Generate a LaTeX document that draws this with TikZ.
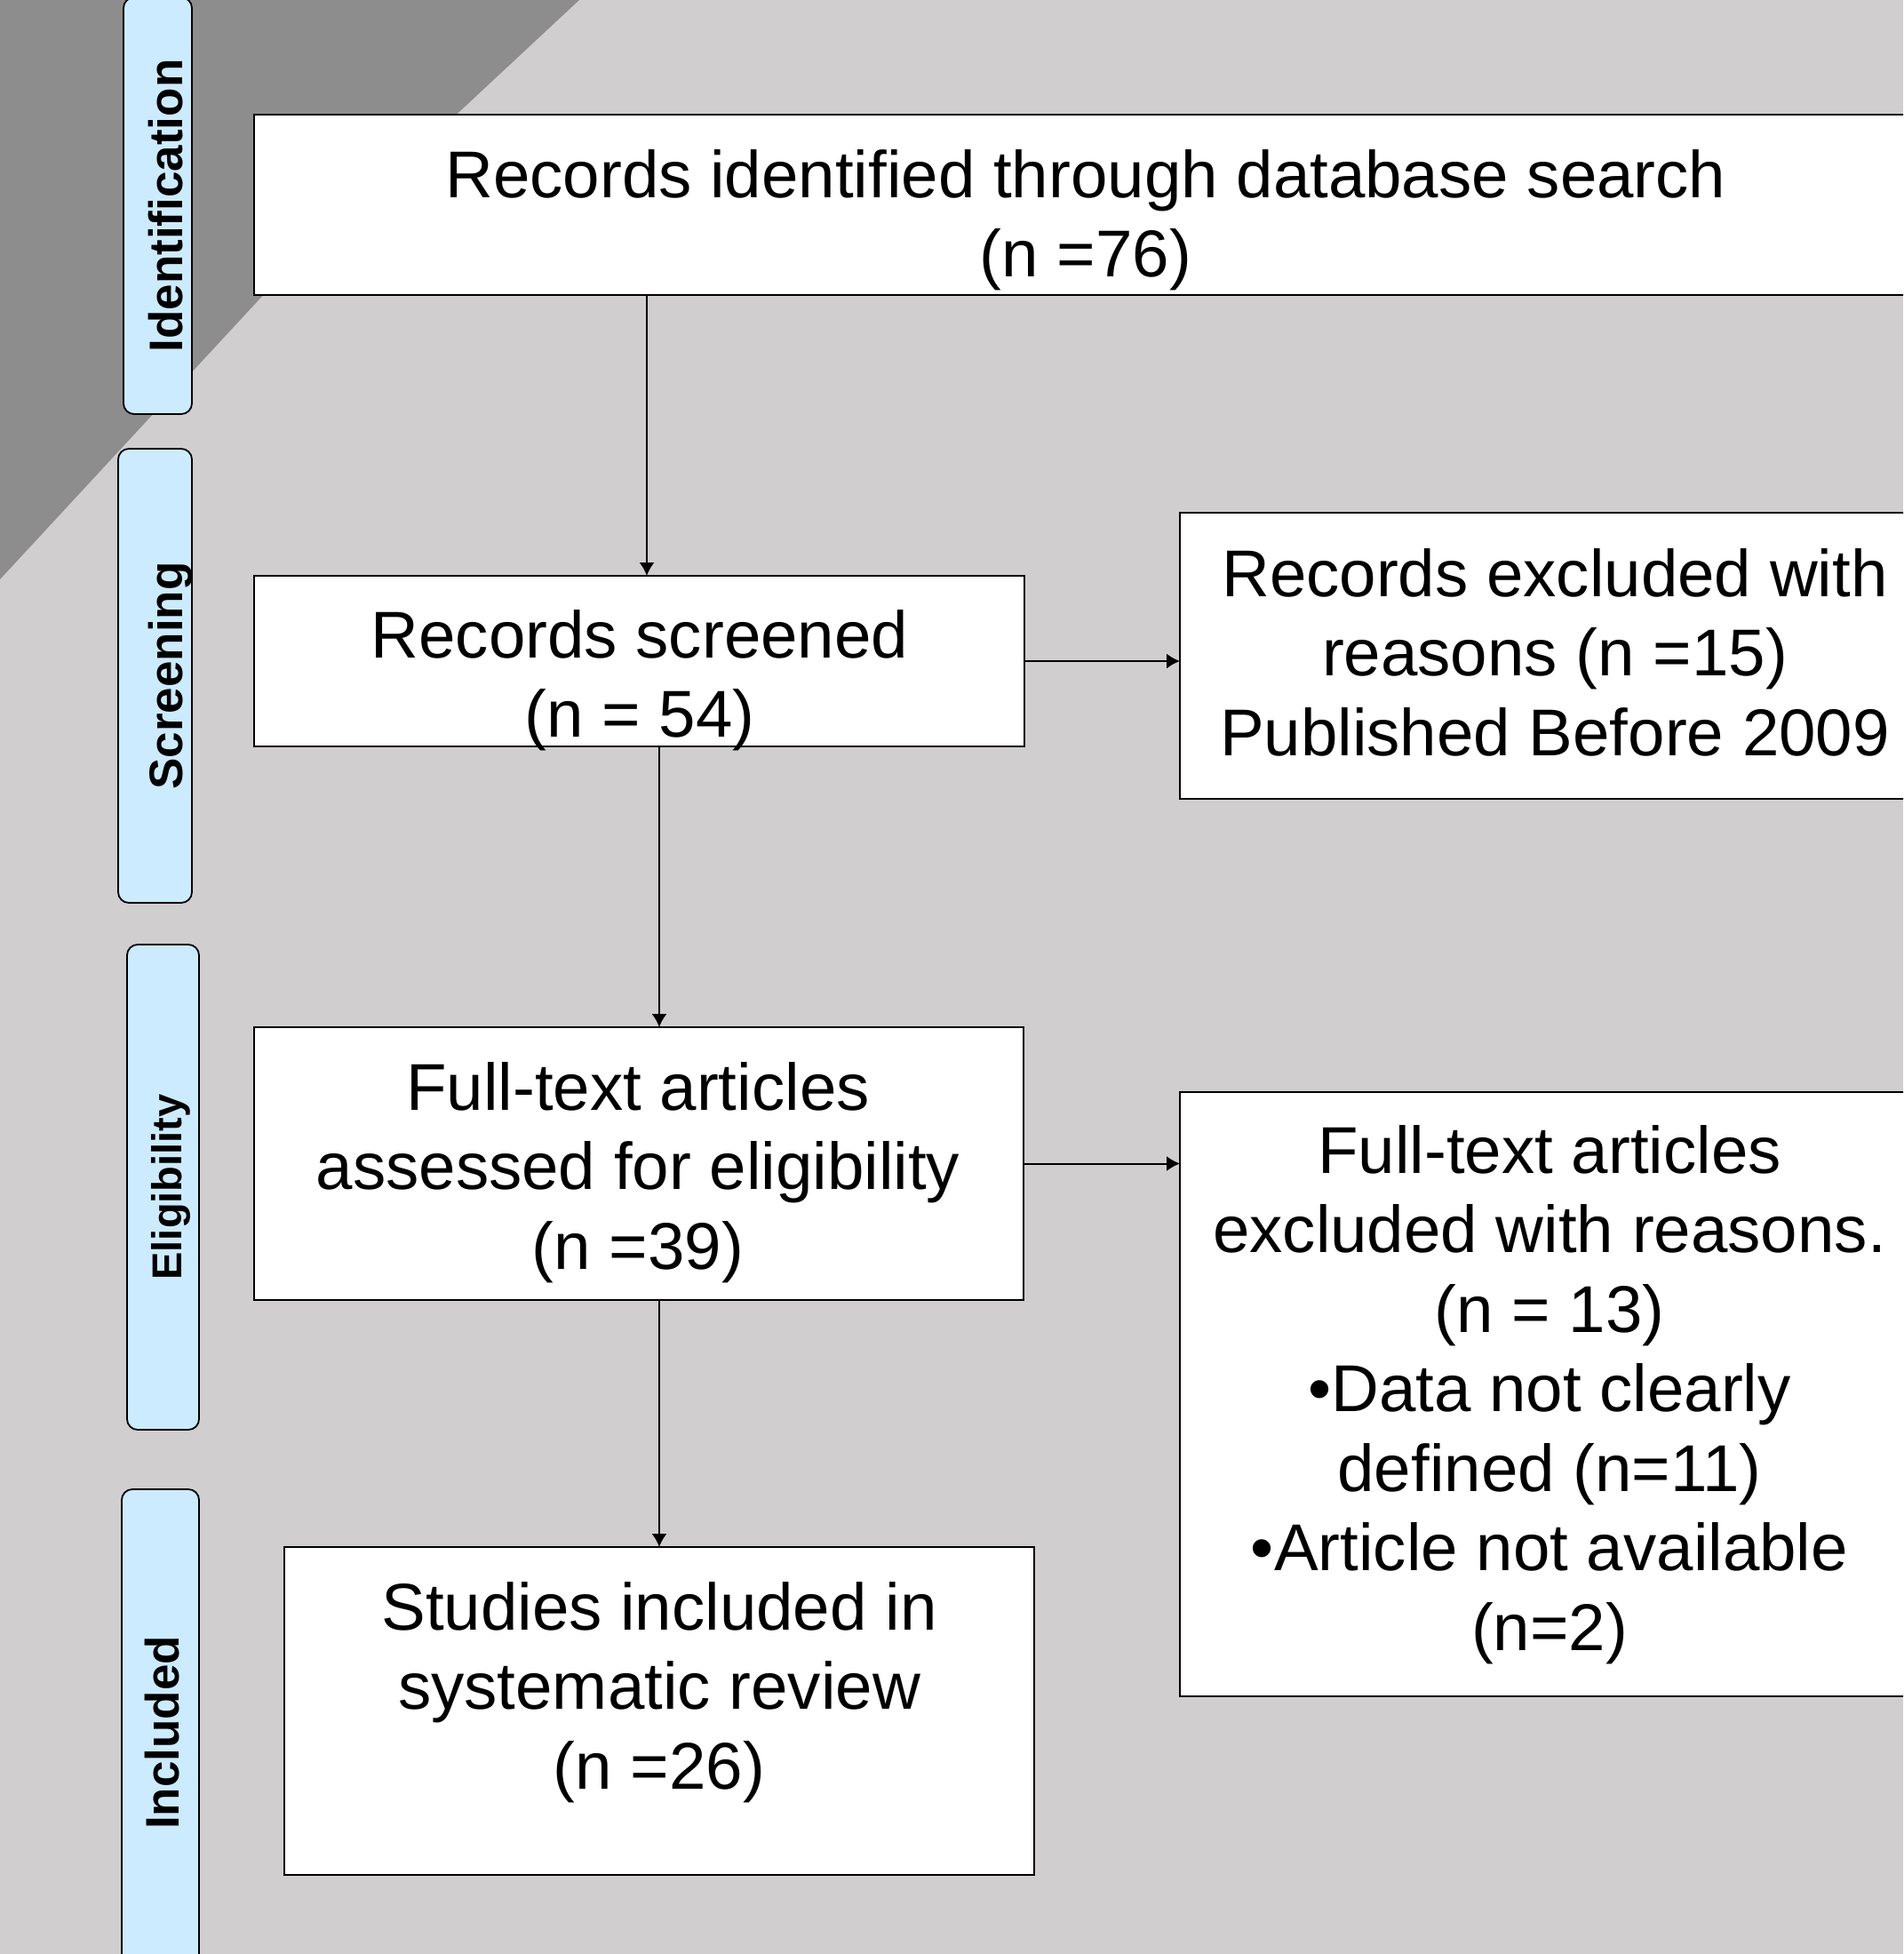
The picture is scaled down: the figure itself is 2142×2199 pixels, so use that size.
\documentclass[tikz,border=0pt]{standalone}
\usepackage{fontspec}
\setmainfont{Liberation Sans}
\usetikzlibrary{arrows.meta}
\definecolor{bggray}{RGB}{208,206,207}
\definecolor{triangray}{RGB}{141,141,141}
\definecolor{tabblue}{RGB}{204,235,255}
\begin{document}
\begin{tikzpicture}[x=0.5pt,y=-0.5pt,
  box/.style={draw=black,fill=white,line width=1pt,inner sep=0pt,outer sep=0pt,rectangle},
  txt/.style={align=center,font=\fontsize{37.25}{44.75}\selectfont,inner sep=0pt},
  tab/.style={draw=black,fill=tabblue,line width=0.9pt,rounded corners=6pt,inner sep=0pt,outer sep=0pt,rectangle},
  tabtxt/.style={rotate=90,anchor=base,font=\fontsize{26.5}{30}\selectfont\bfseries,inner sep=0pt},
  arr/.style={line width=1pt,-{Latex[length=7.5pt,width=8.5pt]}}]
\useasboundingbox (0,0) rectangle (2142,2199);
\clip (0,0) rectangle (2142,2199);
\fill[bggray] (0,0) rectangle (2142,2199);
\fill[triangray] (0,0) -- (652,0) -- (300,328) -- (0,652) -- cycle;

% phase tabs
\node[tab,minimum width=38.5pt,minimum height=234.5pt] (t1) at (177.5,231.5) {};
\node[tab,minimum width=41.5pt,minimum height=255.5pt] (t2) at (174.5,760.5) {};
\node[tab,minimum width=40.5pt,minimum height=273pt] (t3) at (183.5,1336) {};
\node[tab,minimum width=43.5pt,minimum height=274pt] (t4) at (180.5,1950) {};
\node[tabtxt] (t1l) at (205,231.5) {Identification};
\node[tabtxt] (t2l) at (205,760.5) {Screening};
\node[tabtxt,font=\fontsize{23.5}{28}\selectfont\bfseries] (t3l) at (204,1336) {Eligibility};
\node[tabtxt] (t4l) at (201,1950) {Included};

% boxes
\node[box,minimum width=937pt,minimum height=101.5pt] (b1) at (1223,230.5) {};
\node[box,minimum width=433.5pt,minimum height=96pt] (b2) at (719.5,744) {};
\node[box,minimum width=422pt,minimum height=161pt] (b3) at (1750,738) {};
\node[box,minimum width=433pt,minimum height=153.5pt] (b4) at (719,1309.5) {};
\node[box,minimum width=416pt,minimum height=340pt] (b5) at (1744,1569) {};
\node[box,minimum width=422pt,minimum height=184.5pt] (b6) at (742,1925.5) {};

% texts
\node[txt] (b1t) at (1222,247.5) {Records identified through database search\\(n =76)};
\node[txt] (b2t) at (720,765.5) {Records screened\\(n = 54)};
\node[txt] (b3t) at (1750,734) {Records excluded with\\reasons (n =15)\\Published Before 2009};
\node[txt] (b4t) at (718,1319.5) {Full-text articles\\assessed for eligibility\\(n =39)};
\node[txt] (b5t) at (1744,1569.5) {Full-text articles\\excluded with reasons.\\(n = 13)\\•Data not clearly\\defined (n=11)\\•Article not available\\(n=2)};
\node[txt] (b6t) at (742,1904.5) {Studies included in\\systematic review\\(n =26)};

% connectors
\draw[arr] (728,0 |- b1.south) -- (728,0 |- b2.north);
\draw[arr] (742,0 |- b2.south) -- (742,0 |- b4.north);
\draw[arr] (742,0 |- b4.south) -- (742,0 |- b6.north);
\draw[arr] (b2.east) -- (b2.east -| b3.west);
\draw[arr] (b4.east) -- (b4.east -| b5.west);
\end{tikzpicture}
\end{document}
